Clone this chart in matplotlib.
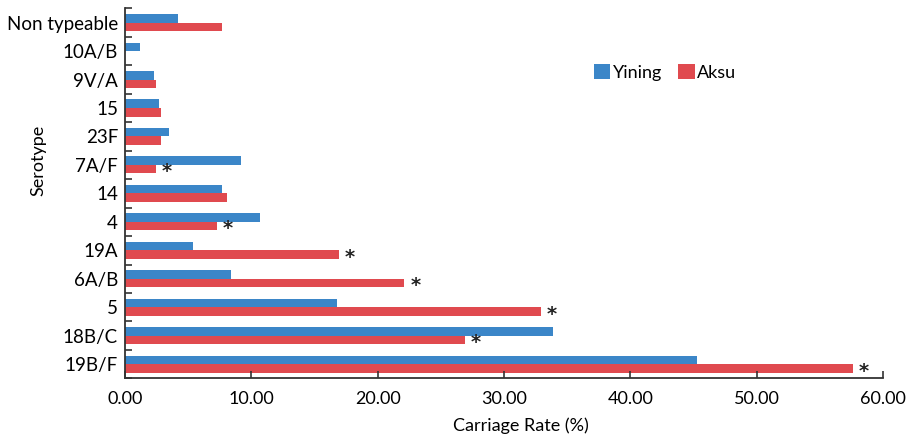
import matplotlib.pyplot as plt
import numpy as np

plt.rcParams['font.family'] = ['Lato', 'DejaVu Sans']

# serotypes, top to bottom
serotypes = ['Non typeable', '10A/B', '9V/A', '15', '23F', '7A/F', '14', '4',
             '19A', '6A/B', '5', '18B/C', '19B/F']
yining = [4.2, 1.2, 2.3, 2.7, 3.45, 9.2, 7.65, 10.7, 5.4, 8.4, 16.8, 33.9, 45.3]
aksu = [7.65, 0.0, 2.45, 2.85, 2.85, 2.45, 8.05, 7.25, 16.9, 22.1, 32.9, 26.9, 57.6]
# serotypes marked with a significance star
significant = ['7A/F', '4', '19A', '6A/B', '5', '18B/C', '19B/F']

blue = '#3b86c8'
red = '#e04a4f'

fig = plt.figure(figsize=(9.19, 4.43), dpi=100)
ax = fig.add_axes([0.136, 0.146, 0.825, 0.835])

y = np.arange(len(serotypes))
h = 0.3
ax.barh(y - h / 2, yining, height=h, color=blue, label='Yining')
ax.barh(y + h / 2, aksu, height=h, color=red, label='Aksu')

for i, s in enumerate(serotypes):
    if s in significant:
        ax.annotate('*', xy=(aksu[i], y[i] + h / 2), xytext=(8, -2),
                    textcoords='offset points', ha='center', va='center',
                    fontsize=14, fontweight='bold', color='#222222',
                    family='DejaVu Sans')

ax.set_ylim(len(serotypes) - 0.5, -0.5)
ax.set_xlim(0, 60)
ax.set_yticks(y)
ax.set_yticklabels(serotypes, fontsize=13.5)
ax.set_yticks(np.arange(len(serotypes) + 1) - 0.5, minor=True)
ax.tick_params(axis='y', which='major', length=0, pad=5)
ax.tick_params(axis='y', which='minor', direction='in', length=5, width=1.2, color='#333333')
ax.set_xticks(np.arange(0, 61, 10))
ax.set_xticklabels(['%.2f' % v for v in np.arange(0, 61, 10)], fontsize=13)
ax.tick_params(axis='x', direction='in', length=5, width=1.2, color='#333333', pad=9)

for side in ['top', 'right']:
    ax.spines[side].set_visible(False)
for side in ['left', 'bottom']:
    ax.spines[side].set_linewidth(1.3)
    ax.spines[side].set_color('#333333')

ax.set_xlabel('Carriage Rate (%)', fontsize=13)
ax.xaxis.set_label_coords(0.522, -0.105)
ax.set_ylabel('Serotype', fontsize=13)
ax.yaxis.set_label_coords(-0.104, 0.59)

ax.legend(loc='center left', bbox_to_anchor=(0.609, 0.826), ncol=2, frameon=False,
          fontsize=13, handlelength=0.9, handleheight=0.9, handletextpad=0.15,
          columnspacing=0.9, borderaxespad=0)

fig.savefig('out.png', dpi=100)
